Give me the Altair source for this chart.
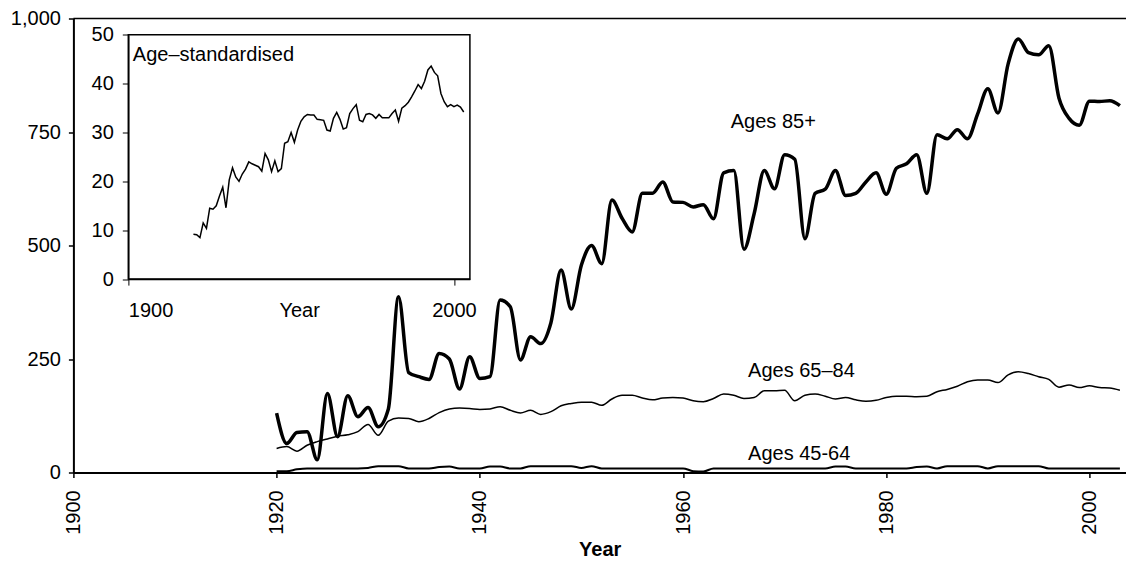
import altair as alt
import pandas as pd

# ---------------- data ----------------
years = list(range(1920, 2004))

ages_85_plus = [
    131, 64, 88, 90, 28, 174, 79, 169, 123, 143,
    101, 140, 387, 220, 211, 205, 262, 250, 184, 255,
    207, 211, 380, 365, 248, 299, 284, 330, 446, 360,
    457, 500, 460, 600, 560, 530, 615, 615, 640, 596,
    595, 585, 590, 559, 660, 665, 492, 570, 665, 625,
    700, 690, 515, 615, 624, 665, 610, 615, 640, 660,
    613, 670, 680, 700, 615, 744, 735, 755, 735, 790,
    845, 792, 900, 955, 925, 920, 940, 825, 780, 765,
    818, 817, 819, 808,
]

ages_65_84 = [
    53, 57, 47, 60, 68, 74, 80, 83, 90, 106,
    82, 113, 120, 119, 112, 119, 132, 140, 142, 141,
    139, 140, 145, 137, 131, 137, 128, 134, 147, 152,
    155, 155, 148, 162, 170, 170, 164, 160, 164, 165,
    164, 158, 156, 163, 173, 170, 163, 165, 180, 180,
    181, 158, 170, 173, 168, 162, 165, 160, 157, 159,
    165, 168, 168, 167, 168, 178, 183, 190, 200, 204,
    204, 198, 215, 222, 218, 211, 205, 188, 193, 187,
    191, 187, 186, 181,
]

ages_45_64 = [
    3, 3, 7, 9, 9, 9, 9, 9, 9, 10,
    14, 14, 14, 9, 9, 9, 12, 13, 9, 9,
    9, 13, 13, 9, 9, 14, 14, 14, 14, 14,
    10, 14, 9, 9, 9, 9, 9, 9, 9, 9,
    9, 3, 2, 9, 9, 9, 9, 9, 9, 9,
    9, 9, 9, 9, 9, 13, 13, 9, 9, 9,
    9, 9, 9, 12, 13, 9, 14, 14, 14, 14,
    9, 14, 14, 14, 14, 14, 9, 9, 9, 9,
    9, 9, 9, 9,
]

age_standardised = [
    9.2, 9.1, 8.5, 11.5, 10.4, 14.5, 14.3, 15.0, 17.0, 18.8,
    14.6, 20.3, 22.8, 20.9, 20.0, 21.5, 22.5, 24.0, 23.6, 23.3,
    23.0, 22.1, 25.7, 24.4, 22.0, 24.2, 22.0, 22.6, 27.8, 28.1,
    30.0, 28.0, 30.5, 32.3, 33.2, 33.7, 33.6, 33.6, 32.7, 32.6,
    32.5, 30.5, 30.3, 32.9, 34.1, 32.7, 30.7, 31.0, 33.9, 34.9,
    35.7, 32.5, 32.2, 33.7, 33.9, 33.6, 32.9, 33.7, 33.0, 33.0,
    33.0, 33.9, 34.6, 32.3, 35.0, 35.5, 36.2, 37.3, 38.5, 39.8,
    39.0, 40.5, 42.8, 43.6, 42.3, 41.6, 38.0, 36.3, 35.3, 35.7,
    35.3, 35.6, 35.2, 34.2,
]

label_text = ["Ages 85+", "Ages 65\u201384", "Ages 45-64"]
label_year = [1964.7, 1966.4, 1966.4]
label_value = [758, 211, 27]

inset_label_text = ["Age\u2013standardised"]
inset_label_year = [1901.4]
inset_label_value = [44.6]

main_x_ticks = [1900, 1920, 1940, 1960, 1980, 2000]
main_y_ticks = [0, 250, 500, 750, 1000]
inset_x_ticks = [1900, 2000]
inset_y_ticks = [0, 10, 20, 30, 40, 50]

MAIN_X_DOMAIN = [1900, 2003.6]
MAIN_Y_DOMAIN = [0, 1000]
INSET_X_DOMAIN = [1900, 2004.9]
INSET_Y_DOMAIN = [0, 50]

# ---------------- layout ----------------
W, H = 1052.6, 454
PAD_L, PAD_T = 65.4, 10.5
TOTAL_H = 553
INSET_X_RANGE = [54.9, 396.5]
INSET_Y_RANGE = [260.6, 16.3]
FONT = "Liberation Sans"

df_main = pd.DataFrame({
    "year": years,
    "v85": ages_85_plus,
    "v65": ages_65_84,
    "v45": ages_45_64,
})
df_inset = pd.DataFrame({"year": years, "value": age_standardised})
df_labels = pd.DataFrame({"year": label_year, "value": label_value, "text": label_text})
df_inset_label = pd.DataFrame({"year": inset_label_year, "value": inset_label_value,
                               "text": inset_label_text})
df_top = pd.DataFrame({"value": [MAIN_Y_DOMAIN[1]]})
df_box = pd.DataFrame({"x0": [INSET_X_DOMAIN[0]], "x1": [INSET_X_DOMAIN[1]],
                       "y0": [INSET_Y_DOMAIN[0]], "y1": [INSET_Y_DOMAIN[1]]})

# ---------------- main chart ----------------
main_x_scale = alt.Scale(domain=MAIN_X_DOMAIN, nice=False, zero=False)
main_y_scale = alt.Scale(domain=MAIN_Y_DOMAIN, nice=False, zero=False)

main_x_axis = alt.Axis(
    values=main_x_ticks, format="d", labelAngle=270, labelFontSize=20,
    labelPadding=12.3, tickSize=5, tickWidth=1.5, domainWidth=2, grid=False,
    title="Year", titleFontSize=20, titleFontWeight="bold",
    titleY=83, titleBaseline="alphabetic",
)
main_y_axis = alt.Axis(
    values=main_y_ticks, format=",.0f", labelFontSize=20, labelPadding=8,
    tickSize=5, tickWidth=1.5, domainWidth=2, grid=False, title=None,
)


def mx(field="year"):
    return alt.X(f"{field}:Q", scale=main_x_scale, axis=main_x_axis)


def my(field):
    return alt.Y(f"{field}:Q", scale=main_y_scale, axis=main_y_axis)


base = alt.Chart(df_main)
line85 = base.mark_line(color="black", strokeWidth=3.5, interpolate="monotone",
                        strokeJoin="round").encode(x=mx(), y=my("v85"))
line65 = base.mark_line(color="black", strokeWidth=1.5, interpolate="monotone").encode(
    x=mx(), y=my("v65"))
line45 = base.mark_line(color="black", strokeWidth=2, interpolate="monotone").encode(
    x=mx(), y=my("v45"))
labels = alt.Chart(df_labels).mark_text(
    align="left", baseline="alphabetic", fontSize=20, color="black", font=FONT
).encode(x=mx(), y=my("value"), text="text:N")
top_rule = alt.Chart(df_top).mark_rule(color="black", strokeWidth=1.5).encode(y=my("value"))

main = alt.layer(line85, line65, line45, labels, top_rule)

# ---------------- inset ----------------
inset_x_scale = alt.Scale(domain=INSET_X_DOMAIN, range=INSET_X_RANGE, nice=False, zero=False)
inset_y_scale = alt.Scale(domain=INSET_Y_DOMAIN, range=INSET_Y_RANGE, nice=False, zero=False)

inset_x_axis = alt.Axis(
    orient="bottom", offset=-(H - INSET_Y_RANGE[0]), values=inset_x_ticks, format="d",
    labelAngle=0, labelFontSize=20, labelBaseline="alphabetic", labelPadding=31.7,
    tickSize=6, tickWidth=1, domainWidth=1.5, grid=False, zindex=1,
    title="Year", titleFontSize=20, titleFontWeight="normal",
    titleY=37.7, titleBaseline="alphabetic",
)
inset_y_axis = alt.Axis(
    orient="left", offset=-INSET_X_RANGE[0], values=inset_y_ticks, labelFontSize=20,
    labelPadding=9, tickSize=6, tickWidth=1, domainWidth=1.5, grid=False, zindex=1,
    title=None,
)


def ix(field="year"):
    return alt.X(f"{field}:Q", scale=inset_x_scale, axis=inset_x_axis)


def iy(field="value"):
    return alt.Y(f"{field}:Q", scale=inset_y_scale, axis=inset_y_axis)


box = alt.Chart(df_box).mark_rect(fill="white", stroke="black", strokeWidth=1.5).encode(
    x=ix("x0"), x2="x1:Q", y=iy("y0"), y2="y1:Q")
inset_line = alt.Chart(df_inset).mark_line(color="black", strokeWidth=1.5).encode(
    x=ix(), y=iy())
inset_label = alt.Chart(df_inset_label).mark_text(
    align="left", baseline="alphabetic", fontSize=20, color="black", font=FONT
).encode(x=ix(), y=iy(), text="text:N")

inset = alt.layer(box, inset_line, inset_label)

chart = (
    alt.layer(main, inset)
    .resolve_scale(x="independent", y="independent")
    .properties(
        width=W, height=H,
        autosize=alt.AutoSizeParams(type="none"),
        padding={"left": PAD_L, "top": PAD_T, "right": 0, "bottom": TOTAL_H - PAD_T - H},
    )
    .configure(font=FONT)
    .configure_view(stroke=None)
    .configure_axis(labelColor="black", tickColor="black", domainColor="black",
                    titleColor="black", labelFont=FONT, titleFont=FONT)
)

chart.save("out.html", embed_options={"renderer": "svg", "actions": False})
